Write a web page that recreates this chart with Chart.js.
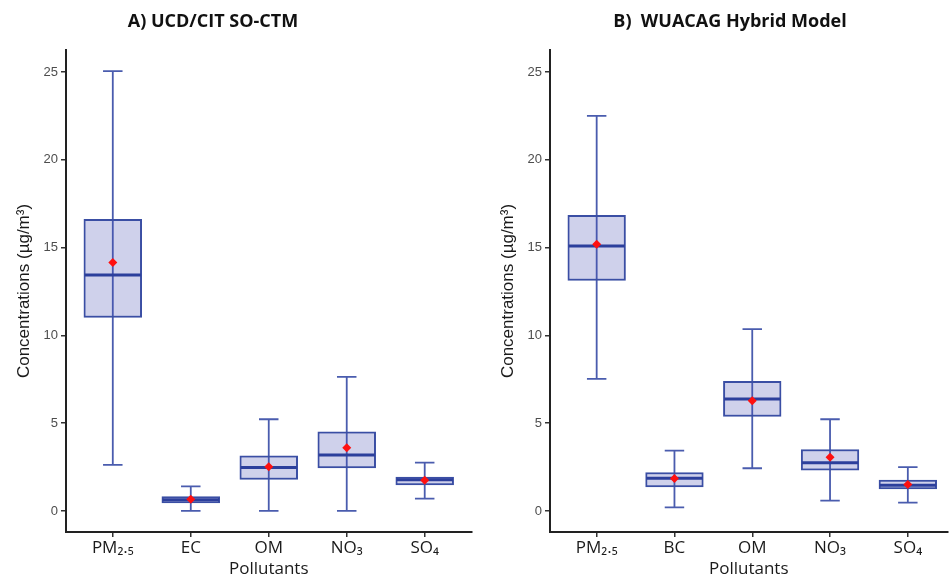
<!DOCTYPE html>
<html>
<head>
<meta charset="utf-8">
<script src="https://cdn.jsdelivr.net/npm/chart.js@4/dist/chart.umd.min.js"></script>
<style>
  body { margin:0; background:#fff; width:952px; height:583px; overflow:hidden; position:relative; }
  .panel { position:absolute; top:0; width:476px; height:583px; }
  .ttl { position:absolute; top:8px; font:bold 18px "Open Sans", sans-serif; color:#111; white-space:pre; transform:translateX(-50%); }
</style>
</head>
<body>
<div class="panel" style="left:0"><canvas id="chartA" width="476" height="583"></canvas></div>
<div class="panel" style="left:476px"><canvas id="chartB" width="476" height="583"></canvas></div>
<div class="ttl" style="left:213px">A) UCD/CIT SO-CTM</div>
<div class="ttl" style="left:730px">B)  WUACAG Hybrid Model</div>

<script>
// ── data ───────────────────────────────────────────────
const Y_TICKS = [0, 5, 10, 15, 20, 25];

const CATS_A = ['PM₂.₅', 'EC', 'OM', 'NO₃', 'SO₄'];
const LO_A   = [2.62, 0.00, 0.00, 0.00, 0.70];
const Q1_A   = [11.0, 0.44, 1.77, 2.43, 1.46];
const MED_A  = [13.44, 0.63, 2.47, 3.19, 1.77];
const Q3_A   = [16.63, 0.83, 3.15, 4.52, 1.95];
const HI_A   = [25.05, 1.40, 5.22, 7.63, 2.75];
const MEAN_A = [14.15, 0.67, 2.52, 3.60, 1.75];

const CATS_B = ['PM₂.₅', 'BC', 'OM', 'NO₃', 'SO₄'];
const LO_B   = [7.52, 0.20, 2.43, 0.59, 0.47];
const Q1_B   = [13.11, 1.35, 5.37, 2.30, 1.24];
const MED_B  = [15.09, 1.86, 6.38, 2.75, 1.46];
const Q3_B   = [16.86, 2.20, 7.40, 3.51, 1.77];
const HI_B   = [22.50, 3.43, 10.35, 5.22, 2.49];
const MEAN_B = [15.19, 1.85, 6.28, 3.06, 1.50];

// ── whiskers + median drawn with the chart's scales ─────
const boxPlugin = {
  id: 'boxParts',
  beforeDatasetDraw(chart, args, opts) {
    if (args.index !== 0) return;
    const { ctx, scales: { x, y } } = chart;
    ctx.save();
    ctx.strokeStyle = '#4a5cae';
    ctx.lineWidth = 1.8;
    opts.lo.forEach((lo, i) => {
      const c = i + 1, xc = x.getPixelForValue(c);
      const yl = y.getPixelForValue(lo), yh = y.getPixelForValue(opts.hi[i]);
      ctx.beginPath();
      ctx.moveTo(xc, yl); ctx.lineTo(xc, yh);
      ctx.moveTo(x.getPixelForValue(c - 0.125), yl); ctx.lineTo(x.getPixelForValue(c + 0.125), yl);
      ctx.moveTo(x.getPixelForValue(c - 0.125), yh); ctx.lineTo(x.getPixelForValue(c + 0.125), yh);
      ctx.stroke();
    });
    ctx.restore();
  },
  afterDatasetDraw(chart, args, opts) {
    if (args.index !== 0) return;
    const { ctx, scales: { x, y } } = chart;
    ctx.save();
    ctx.strokeStyle = '#2c3f9c';
    ctx.lineWidth = 3;
    opts.med.forEach((m, i) => {
      const ym = y.getPixelForValue(m);
      ctx.beginPath();
      ctx.moveTo(x.getPixelForValue(i + 1 - 0.36), ym);
      ctx.lineTo(x.getPixelForValue(i + 1 + 0.36), ym);
      ctx.stroke();
    });
    ctx.restore();
  }
};

function makeChart(id, cats, lo, q1, med, q3, hi, mean, axisW, yTitlePad, xMax) {
  return new Chart(document.getElementById(id), {
    type: 'bar',
    data: {
      datasets: [
        {
          type: 'bar',
          order: 1,
          data: cats.map((c, i) => ({ x: i + 1, y: [q1[i], q3[i]] })),
          backgroundColor: 'rgba(70,76,178,0.26)',
          borderColor: '#3a4ea4',
          borderWidth: 2,
          borderSkipped: false,
          categoryPercentage: 1,
          barPercentage: 0.75
        },
        {
          type: 'scatter',
          order: 0,
          data: cats.map((c, i) => ({ x: i + 1, y: mean[i] })),
          pointStyle: 'rectRot',
          pointRadius: 4.5,
          pointBackgroundColor: '#ff1010',
          pointBorderColor: '#ff1010',
          pointBorderWidth: 0
        }
      ]
    },
    options: {
      responsive: false,
      animation: false,
      events: [],
      layout: { padding: { top: 50, left: 0, right: 1, bottom: 0 } },
      plugins: {
        legend: { display: false },
        tooltip: { enabled: false },
        boxParts: { lo, hi, med }
      },
      scales: {
        x: {
          type: 'linear',
          offset: false,
          min: 0.4, max: xMax,
          afterBuildTicks: s => { s.ticks = cats.map((c, i) => ({ value: i + 1 })); },
          afterFit: s => { s.height = 51; },
          ticks: {
            callback: v => cats[v - 1],
            font: { family: 'Open Sans', size: 17 },
            color: '#1a1a1a',
            padding: 1,
            maxRotation: 0, autoSkip: false
          },
          grid: { display: true, offset: false, drawOnChartArea: false, drawTicks: true, tickLength: 5, color: '#333', lineWidth: 1.5 },
          border: { display: true, color: '#222', width: 2 },
          title: { display: true, text: 'Pollutants', font: { family: 'Open Sans', size: 17 }, color: '#1a1a1a', padding: { top: 0, bottom: 4 } }
        },
        y: {
          min: -1.2, max: 26.25,
          afterBuildTicks: s => { s.ticks = Y_TICKS.map(v => ({ value: v })); },
          afterFit: s => { s.width = axisW; },
          ticks: { font: { family: 'Liberation Sans', size: 13 }, color: '#4d4d4d', padding: 3 },
          grid: { display: true, drawOnChartArea: false, drawTicks: true, tickLength: 5, color: '#333', lineWidth: 1.5 },
          border: { display: true, color: '#222', width: 2 },
          title: { display: true, text: 'Concentrations (µg/m³)', font: { family: 'Liberation Sans', size: 17 }, color: '#1a1a1a', padding: { top: yTitlePad, bottom: 0 } }
        }
      }
    },
    plugins: [boxPlugin]
  });
}

makeChart('chartA', CATS_A, LO_A, Q1_A, MED_A, Q3_A, HI_A, MEAN_A, 66, 14, 5.6);
makeChart('chartB', CATS_B, LO_B, Q1_B, MED_B, Q3_B, HI_B, MEAN_B, 74, 22, 5.51);
</script>
</body>
</html>
